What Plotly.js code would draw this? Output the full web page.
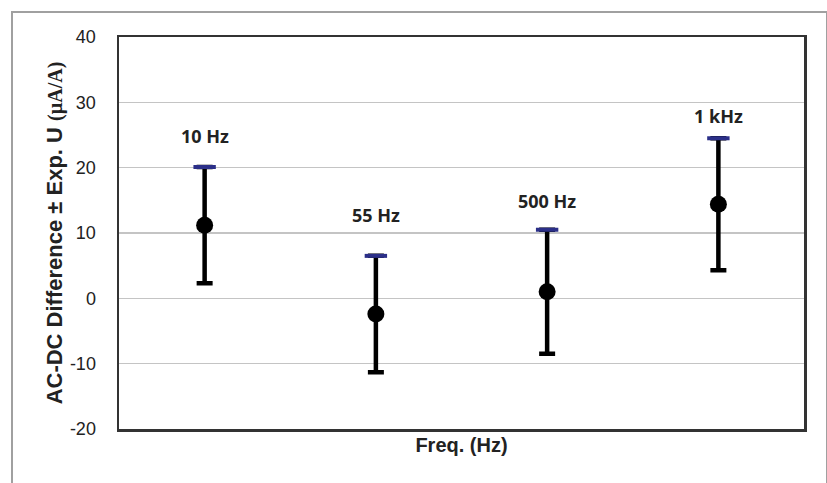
<!DOCTYPE html>
<html>
<head>
<meta charset="utf-8">
<script src="https://cdn.plot.ly/plotly-3.0.1.min.js"></script>
<style>
  html, body { margin: 0; padding: 0; background: #fff; }
  #wrap { position: relative; width: 827px; height: 483px; overflow: hidden; }
  #chart { width: 827px; height: 483px; }
  #frame { position: absolute; left: 11px; top: 11px; width: 813px; height: 490px;
           border: 2px solid #a0a0a0; pointer-events: none; }
</style>
</head>
<body>
<div id="wrap">
  <div id="chart"></div>
  <div id="frame"></div>
</div>
<script>
// Data
const categories = ["10 Hz", "55 Hz", "500 Hz", "1 kHz"];
const acdcDiff   = [11.2, -2.4, 1.0, 14.4];   // µA/A
const expandedU  = [8.9, 8.9, 9.5, 10.1];     // µA/A (± expanded uncertainty)
const yTicks     = [-20, -10, 0, 10, 20, 30, 40];

// style-only settings
const labelShift = [31, 41, 29, 22];

const upper = acdcDiff.map((v, i) => v + expandedU[i]);

const traces = [
  {
    type: "scatter",
    mode: "markers",
    x: categories,
    y: acdcDiff,
    marker: { color: "#000", size: 17, symbol: "circle" },
    error_y: { type: "data", array: expandedU, visible: true,
               color: "#000", thickness: 4.5, width: 8 },
    hoverinfo: "x+y"
  },
  {
    type: "scatter",
    mode: "markers",
    x: categories,
    y: upper,
    marker: { symbol: "line-ew", size: 16, color: "#2b2f88",
              line: { color: "#2b2f88", width: 4 } },
    hoverinfo: "skip"
  }
];

const annotations = categories.map((c, i) => ({
  x: c, y: upper[i], xref: "x", yref: "y",
  text: c, showarrow: false, yanchor: "middle", yshift: labelShift[i],
  font: { family: "Noto Sans, Open Sans, sans-serif", size: 18, color: "#222", weight: "bold" }
}));

const layout = {
  width: 827, height: 483,
  margin: { l: 119, r: 23, t: 37, b: 54 },
  paper_bgcolor: "#fff",
  plot_bgcolor: "#fff",
  showlegend: false,
  xaxis: {
    type: "category",
    range: [-0.5, 3.5],
    showticklabels: false,
    showgrid: false,
    zeroline: false,
    showline: true, linecolor: "#333", linewidth: 2.5, mirror: true,
    ticks: "",
    title: { text: "Freq. (Hz)", standoff: 8,
             font: { family: "Liberation Sans, Arial, sans-serif", size: 20, color: "#222", weight: "bold" } }
  },
  yaxis: {
    range: [-20, 40],
    tickvals: yTicks,
    ticktext: yTicks.map(String),
    showgrid: true, gridcolor: "#c4c4c4", gridwidth: 1.5,
    zeroline: false,
    showline: true, linecolor: "#333", linewidth: 2.5, mirror: true,
    ticks: "",
    ticklabelstandoff: 17,
    tickfont: { family: "Liberation Sans, Arial, sans-serif", size: 18, color: "#222" },
    title: { text: "AC-DC Difference ± Exp. U <span style=\"font-family:Liberation Serif;font-size:20px\">(µA/A)</span>",
             standoff: 1,
             font: { family: "Liberation Sans, Arial, sans-serif", size: 22, color: "#222", weight: "bold" } }
  },
  annotations: annotations
};

Plotly.newPlot("chart", traces, layout, { staticPlot: true, displayModeBar: false });
</script>
</body>
</html>
